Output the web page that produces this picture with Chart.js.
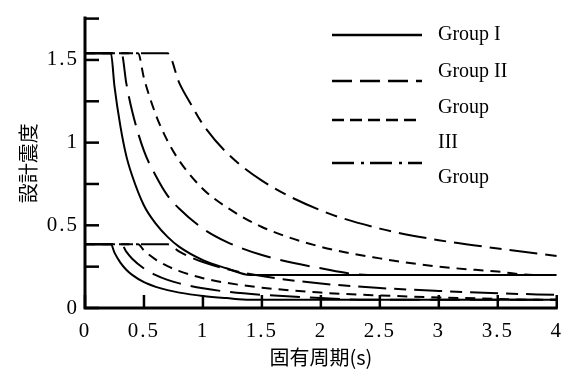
<!DOCTYPE html>
<html>
<head>
<meta charset="utf-8">
<script src="https://cdn.jsdelivr.net/npm/chart.js@4.4.0/dist/chart.umd.min.js"></script>
<style>
  html, body { margin: 0; padding: 0; background: #fff; }
</style>
</head>
<body>
<canvas id="chart" width="573" height="373"></canvas>
<script>
// periods (s) and design coefficients
// upper = level 2 curves, lower = level 1 curves
const periodsI   = [0, 0.22, 0.25, 0.3, 0.35, 0.4, 0.5, 0.6, 0.7, 0.8, 1.0, 1.2, 1.4, 4];
const upperI     = [1.54, 1.54, 1.34, 1.10, 0.92, 0.80, 0.62, 0.51, 0.43, 0.37, 0.29, 0.24, 0.2, 0.2];
const lowerI     = [0.385, 0.385, 0.335, 0.274, 0.231, 0.2, 0.156, 0.128, 0.108, 0.093, 0.073, 0.06, 0.05, 0.05];

const periodsII  = [0, 0.31, 0.35, 0.4, 0.5, 0.6, 0.7, 0.8, 1.0, 1.2, 1.5, 2.0, 2.4, 4];
const upperII    = [1.54, 1.54, 1.36, 1.19, 0.95, 0.80, 0.68, 0.60, 0.48, 0.40, 0.32, 0.24, 0.2, 0.2];
const lowerII    = [0.385, 0.385, 0.341, 0.298, 0.239, 0.199, 0.170, 0.149, 0.119, 0.099, 0.080, 0.060, 0.05, 0.05];

const periodsIII = [0, 0.45, 0.5, 0.6, 0.7, 0.8, 1.0, 1.2, 1.5, 2.0, 2.5, 3.0, 3.5, 3.8, 4];
const upperIII   = [1.54, 1.54, 1.39, 1.17, 1.01, 0.89, 0.72, 0.61, 0.49, 0.37, 0.30, 0.25, 0.22, 0.2, 0.2];
const lowerIII   = [0.385, 0.385, 0.348, 0.293, 0.253, 0.223, 0.180, 0.152, 0.123, 0.093, 0.076, 0.064, 0.055, 0.05, 0.05];

const periodsIV  = [0, 0.7, 0.8, 0.9, 1.0, 1.2, 1.5, 2.0, 2.5, 3.0, 3.5, 4];
const upperIV    = [1.54, 1.54, 1.36, 1.23, 1.11, 0.94, 0.77, 0.59, 0.48, 0.41, 0.36, 0.315];
const lowerIV    = [0.385, 0.385, 0.341, 0.306, 0.278, 0.236, 0.193, 0.148, 0.121, 0.103, 0.089, 0.079];

const seriesNames = ['Group I', 'Group II', 'Group III', 'Group'];
// the legend text wraps like this in the original
const legendRows = ['Group I', 'Group II', 'Group', 'III', 'Group'];

const xTickValues = [0, 0.5, 1, 1.5, 2, 2.5, 3, 3.5, 4];
const yTickValues = [0, 0.25, 0.5, 0.75, 1, 1.25, 1.5, 1.75];

const xTitle = '固有周期(s)';
const yTitle = '設計震度';

const serif = 'Liberation Serif';
const dashes = [[], [30, 10], [10, 7], [28, 8, 12, 8]];

function toPoints(xs, ys) {
    return xs.map((x, i) => ({ x: x, y: ys[i] }));
}

function makeSet(label, xs, ys, dash) {
    return {
        label: label,
        data: toPoints(xs, ys),
        borderColor: '#000',
        borderWidth: 2,
        borderDash: dash,
        pointRadius: 0,
        fill: false,
        cubicInterpolationMode: 'monotone'
    };
}

const datasets = [
    makeSet(seriesNames[0], periodsI, upperI, dashes[0]),
    makeSet(seriesNames[1], periodsII, upperII, dashes[1]),
    makeSet(seriesNames[2], periodsIII, upperIII, dashes[2]),
    makeSet(seriesNames[3], periodsIV, upperIV, dashes[3]),
    makeSet(seriesNames[0], periodsI, lowerI, dashes[0]),
    makeSet(seriesNames[1], periodsII, lowerII, dashes[1]),
    makeSet(seriesNames[2], periodsIII, lowerIII, dashes[2]),
    makeSet(seriesNames[3], periodsIV, lowerIV, dashes[3])
];

// tick labels in the original are spaced out a little
const spacedLabels = {
    id: 'spacedLabels',
    afterLayout(chart) {
        [chart.scales.x, chart.scales.y].forEach(s => {
            if (s._spaced) return;
            const orig = s.drawLabels.bind(s);
            s.drawLabels = function (area) {
                chart.ctx.save();
                chart.ctx.letterSpacing = '2px';
                orig(area);
                chart.ctx.restore();
            };
            s._spaced = true;
        });
    }
};

// axes with inward ticks + the hand placed legend
const decor = {
    id: 'decor',
    afterDraw(chart) {
        const ctx = chart.ctx;
        const x = chart.scales.x;
        const y = chart.scales.y;
        const x0 = x.getPixelForValue(0);
        const y0 = y.getPixelForValue(0);

        ctx.save();
        ctx.strokeStyle = '#000';
        ctx.lineWidth = 3;
        ctx.beginPath();
        ctx.moveTo(x0, y.top - 2);
        ctx.lineTo(x0, y0);
        ctx.lineTo(x.getPixelForValue(4) + 1, y0);
        ctx.stroke();

        ctx.lineWidth = 2.5;
        xTickValues.forEach(v => {
            const px = x.getPixelForValue(v);
            ctx.beginPath();
            ctx.moveTo(px, y0);
            ctx.lineTo(px, y0 - 13);
            ctx.stroke();
        });
        yTickValues.forEach(v => {
            const py = y.getPixelForValue(v);
            ctx.beginPath();
            ctx.moveTo(x0, py);
            ctx.lineTo(x0 + 14, py);
            ctx.stroke();
        });

        // legend samples
        const sampleY = [35, 81, 120, 163];
        const sampleDash = [[], [20, 8], [12, 6], [22, 7, 3, 6]];
        ctx.lineWidth = 2.5;
        sampleY.forEach((sy, i) => {
            ctx.setLineDash(sampleDash[i]);
            ctx.beginPath();
            ctx.moveTo(332, sy);
            ctx.lineTo(422, sy);
            ctx.stroke();
        });
        ctx.setLineDash([]);

        const rowY = [35, 72, 108, 143, 178];
        ctx.fillStyle = '#000';
        ctx.font = '20px "' + serif + '"';
        ctx.textAlign = 'left';
        ctx.textBaseline = 'middle';
        legendRows.forEach((t, i) => ctx.fillText(t, 438, rowY[i]));
        ctx.restore();
    }
};

new Chart(document.getElementById('chart'), {
    type: 'line',
    data: { datasets: datasets },
    options: {
        responsive: false,
        animation: false,
        layout: { padding: { top: 14, right: 14, left: 0, bottom: 0 } },
        plugins: {
            legend: { display: false },
            tooltip: { enabled: false }
        },
        scales: {
            x: {
                type: 'linear',
                min: 0,
                max: 4,
                afterFit: s => { s.height = 65; },
                grid: { display: false, drawTicks: false },
                border: { display: false },
                ticks: {
                    stepSize: 0.5,
                    autoSkip: false,
                    maxRotation: 0,
                    padding: 11,
                    color: '#000',
                    font: { family: serif, size: 21 },
                    callback: v => String(v)
                },
                title: {
                    display: true,
                    text: xTitle,
                    color: '#000',
                    padding: { top: 0, bottom: 4 },
                    font: { family: 'Noto Sans CJK JP', size: 20 }
                }
            },
            y: {
                type: 'linear',
                min: 0,
                max: 1.75,
                afterFit: s => { s.width = 85; },
                grid: { display: false, drawTicks: false },
                border: { display: false },
                ticks: {
                    stepSize: 0.25,
                    autoSkip: false,
                    padding: 6,
                    color: '#000',
                    font: { family: serif, size: 21 },
                    callback: v => (Math.abs(v * 2 - Math.round(v * 2)) < 1e-9 ? String(v) : '')
                },
                title: {
                    display: true,
                    text: yTitle,
                    color: '#000',
                    padding: { top: 16, bottom: 0 },
                    font: { family: 'Noto Sans CJK JP', size: 20 }
                }
            }
        }
    },
    plugins: [spacedLabels, decor]
});
</script>
</body>
</html>
